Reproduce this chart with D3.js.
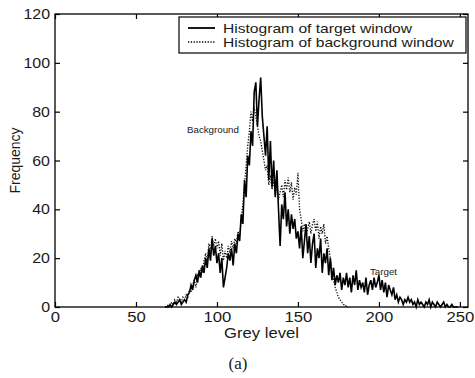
<!DOCTYPE html>
<html>
<head>
<meta charset="utf-8">
<script src="https://cdn.jsdelivr.net/npm/d3@7"></script>
<style>
  body { margin: 0; background: #fff; }
  text { font-family: "Liberation Sans", Arial, sans-serif; fill: #1a1a1a; }
</style>
</head>
<body>
<div id="chart"></div>
<script>
// grey levels start here, one value per level
const greyStart = 68

// histogram of target window (solid line)
const targetCounts = [
  0, 0,
  0, 1, 0, 1, 2, 1, 2, 3, 1, 2,          // 70
  3, 2, 5, 6, 9, 7, 11, 13, 10, 15,      // 80
  12, 17, 14, 20, 16, 24, 19, 28, 21, 25, // 90
  18, 22, 14, 20, 8, 12, 16, 22, 19, 24,  // 100
  17, 26, 22, 30, 27, 38, 34, 52, 45, 62, // 110
  58, 72, 66, 88, 92, 74, 85, 94, 78, 70, // 120
  62, 74, 52, 68, 49, 60, 45, 56, 40, 25, // 130
  42, 36, 47, 33, 40, 30, 38, 32, 36, 28, // 140
  31, 24, 33, 20, 27, 34, 22, 29, 18, 26, // 150
  30, 16, 24, 20, 28, 14, 22, 18, 24, 13, // 160
  20, 11, 16, 9, 13, 10, 14, 7, 12, 9,    // 170
  14, 8, 12, 6, 13, 9, 15, 7, 11, 8,      // 180
  10, 6, 12, 5, 9, 11, 7, 12, 8, 10,      // 190
  13, 7, 11, 6, 10, 4, 9, 7, 5, 8,        // 200
  3, 5, 2, 4, 3, 1, 3, 2, 4, 2,           // 210
  3, 1, 2, 0, 3, 1, 2, 1, 0, 2,           // 220
  1, 3, 0, 2, 1, 0, 2, 1, 0, 1,           // 230
  2, 0, 1, 0, 0, 1, 0, 0, 0, 0            // 240
]

// histogram of background window (dotted line)
const backgroundCounts = [
  0, 0,
  1, 0, 2, 1, 3, 2, 4, 3, 2, 4,           // 70
  3, 5, 4, 7, 6, 9, 11, 8, 13, 12,        // 80
  16, 14, 19, 22, 18, 26, 23, 29, 25, 28, // 90
  24, 27, 21, 26, 19, 23, 20, 25, 22, 27, // 100
  24, 28, 26, 31, 29, 36, 42, 50, 58, 66, // 110
  72, 80, 76, 82, 78, 74, 70, 68, 64, 60, // 120
  56, 58, 50, 54, 48, 52, 46, 50, 44, 47, // 130
  50, 45, 52, 48, 53, 47, 51, 44, 49, 46, // 140
  55, 40, 36, 31, 34, 29, 32, 35, 30, 34, // 150
  36, 31, 35, 28, 33, 30, 34, 26, 29, 24, // 160
  20, 15, 11, 8, 6, 4, 3, 2, 1, 1,        // 170
  0, 0
]

const xTicks = [0, 50, 100, 150, 200, 250]
const yTicks = [0, 20, 40, 60, 80, 100, 120]
const legendLabels = ['Histogram of target window', 'Histogram of background window']

const W = 475, H = 378
const m = { l: 55, r: 7, t: 14, b: 71 } // plot box 55..468 x 14..307
const tick = 5

const svg = d3.select('#chart').append('svg')
  .attr('width', W).attr('height', H)

const x = d3.scaleLinear().domain([0, 255]).range([m.l, W - m.r])
const y = d3.scaleLinear().domain([0, 120]).range([H - m.b, m.t])

// widen text a bit, the scanned figure is stretched horizontally
const widen = (sel, k) => sel.each(function () {
  const w = this.getComputedTextLength()
  d3.select(this).attr('textLength', w * k).attr('lengthAdjust', 'spacingAndGlyphs')
})

// data lines
const line = (start) => d3.line()
  .x((d, i) => x(start + i))
  .y(d => y(d))

svg.append('path')
  .datum(backgroundCounts)
  .attr('fill', 'none')
  .attr('stroke', '#111')
  .attr('stroke-width', 1.3)
  .attr('stroke-dasharray', '1.3,1.5')
  .attr('d', line(greyStart))

svg.append('path')
  .datum(targetCounts)
  .attr('fill', 'none')
  .attr('stroke', '#000')
  .attr('stroke-width', 1.6)
  .attr('d', line(greyStart))

// axes, matlab style: box with inward ticks on all sides
const axStyle = g => {
  g.select('.domain').remove()
  g.selectAll('.tick line').attr('stroke', '#000').attr('stroke-width', 1.2)
  g.selectAll('.tick text').style('font-size', '14.5px').attr('fill', '#1a1a1a')
}

svg.append('g')
  .attr('transform', `translate(0,${y(0)})`)
  .call(d3.axisBottom(x).tickValues(xTicks).tickSize(-tick).tickPadding(5))
  .call(axStyle)
  .call(g => g.selectAll('.tick text').call(widen, 1.15))

svg.append('g')
  .attr('transform', `translate(0,${y(120)})`)
  .call(d3.axisTop(x).tickValues(xTicks).tickSize(-tick).tickFormat(''))
  .call(axStyle)

svg.append('g')
  .attr('transform', `translate(${x(0)},0)`)
  .call(d3.axisLeft(y).tickValues(yTicks).tickSize(-tick).tickPadding(5))
  .call(axStyle)
  .call(g => g.selectAll('.tick text').call(widen, 1.1))

svg.append('g')
  .attr('transform', `translate(${x(255)},0)`)
  .call(d3.axisRight(y).tickValues(yTicks).tickSize(-tick).tickFormat(''))
  .call(axStyle)

svg.append('rect')
  .attr('x', x(0)).attr('y', y(120))
  .attr('width', x(255) - x(0)).attr('height', y(0) - y(120))
  .attr('fill', 'none').attr('stroke', '#000').attr('stroke-width', 1.3)

// axis titles
svg.append('text')
  .attr('x', (x(0) + x(255)) / 2).attr('y', 338)
  .attr('text-anchor', 'middle').style('font-size', '14.5px')
  .text('Grey level').call(widen, 1.15)

svg.append('text')
  .attr('transform', `translate(20,${(y(0) + y(120)) / 2}) rotate(-90)`)
  .attr('text-anchor', 'middle').style('font-size', '14px')
  .text('Frequency')

// annotations
svg.append('text')
  .attr('x', 187).attr('y', 133).style('font-size', '9px')
  .text('Background').call(widen, 1.08)

svg.append('text')
  .attr('x', 370).attr('y', 275).style('font-size', '9px')
  .text('Target').call(widen, 1.08)

// legend
const lg = svg.append('g').attr('transform', 'translate(179,17)')
lg.append('rect')
  .attr('width', 287).attr('height', 36)
  .attr('fill', '#fff').attr('stroke', '#000').attr('stroke-width', 1.2)

lg.selectAll('line.key')
  .data(legendLabels)
  .join('line')
  .attr('class', 'key')
  .attr('x1', 9).attr('x2', 36)
  .attr('y1', (d, i) => 11 + i * 14).attr('y2', (d, i) => 11 + i * 14)
  .attr('stroke', '#000')
  .attr('stroke-width', (d, i) => i ? 1.3 : 1.8)
  .attr('stroke-dasharray', (d, i) => i ? '1.3,1.5' : null)

lg.selectAll('text.key')
  .data(legendLabels)
  .join('text')
  .attr('class', 'key')
  .attr('x', 44).attr('y', (d, i) => 15.5 + i * 14)
  .style('font-size', '13px')
  .text(d => d)
  .call(widen, 1.2)

// caption
svg.append('text')
  .attr('x', 238).attr('y', 369)
  .attr('text-anchor', 'middle')
  .style('font-family', '"Liberation Serif", "Times New Roman", serif')
  .style('font-size', '17px')
  .text('(a)')
</script>
</body>
</html>
